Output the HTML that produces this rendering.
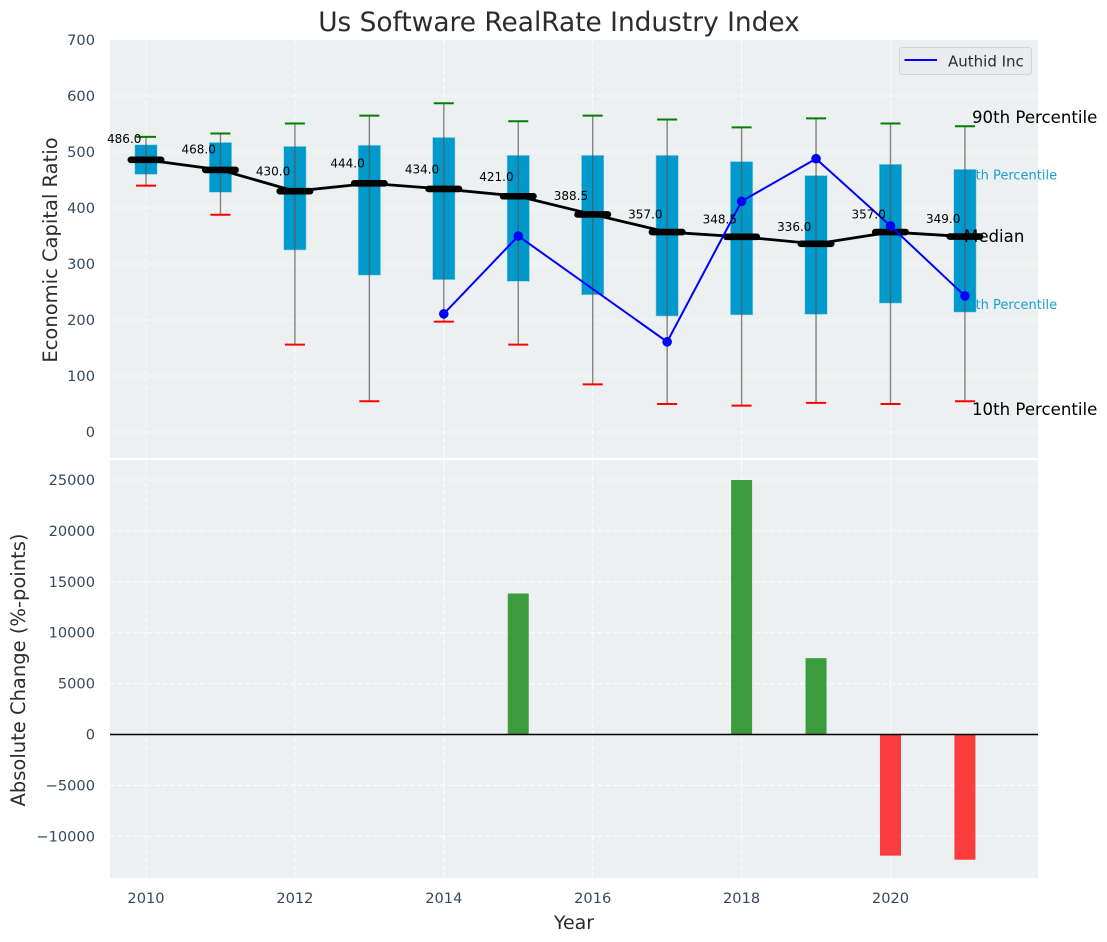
<!DOCTYPE html>
<html lang="en">
<head>
<meta charset="utf-8">
<title>Us Software RealRate Industry Index</title>
<style>
html,body{margin:0;padding:0;background:#fff;width:1107px;height:942px;overflow:hidden}
svg{display:block;font-family:"DejaVu Sans","Liberation Sans",sans-serif}
</style>
</head>
<body>
<svg id="chart" xmlns="http://www.w3.org/2000/svg" width="1107" height="942" viewBox="0 0 1107 942"></svg>
<script>
const years = [2010,2011,2012,2013,2014,2015,2016,2017,2018,2019,2020,2021];
const p90 = [527,533,551,565,587,555,565,558,544,560,551,546];
const p75 = [513,517,510,512,526,494,494,494,483,458,478,469];
const medians = [486,468,430,444,434,421,388.5,357,348.5,336,357,349];
const p25 = [460,428,325,280,272,269,245,207,209,210,230,214];
const p10 = [440,388,156,55,197,156,85,50,47,52,50,55];
const authidYears = [2014,2015,2017,2018,2019,2020,2021];
const authidValues = [211,350,161,412,488,368,243];
const changeYears = [2015,2018,2019,2020,2021];
const changeValues = [13850,25000,7500,-11900,-12300];
const xTicks = [2010,2012,2014,2016,2018,2020];
const yTicksTop = [0,100,200,300,400,500,600,700];
const yTicksBottom = [-10000,-5000,0,5000,10000,15000,20000,25000];

const NS = 'http://www.w3.org/2000/svg';
const svg = document.getElementById('chart');
const L = 110, R = 1038, T1 = 40, B1 = 458, T2 = 460, B2 = 878;
const x = v => 146 + (v - 2010) * 74.45;
const y1 = v => 432 - v * 0.56;
const y2 = v => 734.5 - v * 0.01018;
const labelY = v => 142.8 + (486 - v) * 0.587;

function mk(tag, attrs, text) {
  const el = document.createElementNS(NS, tag);
  for (const k in attrs) el.setAttribute(k, attrs[k]);
  if (text !== undefined) el.textContent = text;
  svg.appendChild(el);
  return el;
}
function fmtTick(v) { return v < 0 ? '\u2212' + Math.abs(v) : String(v); }

let el;
// panels
el = mk('rect', {x:L, y:T1, width:R-L, height:B1-T1, fill:'#ecf0f1'});


el = mk('rect', {x:L, y:T2, width:R-L, height:B2-T2, fill:'#ecf0f1'});



// grid
const gridStyle = {stroke:'#ffffff', 'stroke-width':1.1, 'stroke-dasharray':'5 2.5', opacity:0.85};
xTicks.forEach(t => {
  el = mk('line', Object.assign({x1:x(t), x2:x(t), y1:T1, y2:B1}, gridStyle));
  
  
  el = mk('line', Object.assign({x1:x(t), x2:x(t), y1:T2, y2:B2}, gridStyle));
  
  
  el = mk('text', {x:x(t), y:903, 'text-anchor':'middle', 'font-size':14.6, fill:'#34495e'}, String(t));
  
  
});
yTicksTop.forEach(t => {
  if (t < 700) {
    el = mk('line', Object.assign({x1:L, x2:R, y1:y1(t), y2:y1(t)}, gridStyle));
    
    
  }
  el = mk('text', {x:95, y:y1(t)+5, 'text-anchor':'end', 'font-size':14.6, fill:'#34495e'}, fmtTick(t));
  
  
});
yTicksBottom.forEach(t => {
  el = mk('line', Object.assign({x1:L, x2:R, y1:y2(t), y2:y2(t)}, gridStyle));
  
  
  el = mk('text', {x:95, y:y2(t)+5, 'text-anchor':'end', 'font-size':14.6, fill:'#34495e'}, fmtTick(t));
  
  
});

// percentile annotations that sit behind the boxes
const lastIndex = years.length - 1;
el = mk('text', {x:x(2021)-6, y:y1(p75[lastIndex])+10, 'font-size':13, fill:'#0099cc', opacity:0.9}, '75th Percentile');


el = mk('text', {x:x(2021)-6, y:y1(p25[lastIndex])-3, 'font-size':13, fill:'#0099cc', opacity:0.9}, '25th Percentile');



// boxes
years.forEach((yr, i) => {
  el = mk('rect', {x:x(yr)-11.2, y:y1(p75[i]), width:22.4, height:y1(p25[i])-y1(p75[i]), fill:'#0099cc', stroke:'#9fd6e8', 'stroke-width':0.6});
  
  
});
// whiskers and caps
years.forEach((yr, i) => {
  el = mk('line', {x1:x(yr), x2:x(yr), y1:y1(p90[i]), y2:y1(p10[i]), stroke:'#555555', 'stroke-width':1.4, opacity:0.7});
  
  
  el = mk('line', {x1:x(yr)-10, x2:x(yr)+10, y1:y1(p90[i]), y2:y1(p90[i]), stroke:'#008000', 'stroke-width':2});
  
  
  el = mk('line', {x1:x(yr)-10, x2:x(yr)+10, y1:y1(p10[i]), y2:y1(p10[i]), stroke:'#ff0000', 'stroke-width':2});
  
  
});

// median trend line and median bars
el = mk('polyline', {points:years.map((yr, i) => x(yr)+','+y1(medians[i])).join(' '), fill:'none', stroke:'#000000', 'stroke-width':2.8});


years.forEach((yr, i) => {
  el = mk('line', {x1:x(yr)-15.2, x2:x(yr)+15.2, y1:y1(medians[i]), y2:y1(medians[i]), stroke:'#000000', 'stroke-width':6.6, 'stroke-linecap':'round'});
  
  
});

// authid series
el = mk('polyline', {points:authidYears.map((yr, i) => x(yr)+','+y1(authidValues[i])).join(' '), fill:'none', stroke:'#0000ff', 'stroke-width':2});


authidYears.forEach((yr, i) => {
  el = mk('circle', {cx:x(yr), cy:y1(authidValues[i]), r:4.8, fill:'#0000ff'});
  
  
});

// median labels
years.forEach((yr, i) => {
  el = mk('text', {x:x(yr)-21.8, y:labelY(medians[i]), 'text-anchor':'middle', 'font-size':12, fill:'#000000'}, medians[i].toFixed(1));
  
  
});

// remaining annotations
el = mk('text', {x:972, y:123, 'font-size':16.6, fill:'#000000'}, '90th Percentile');


el = mk('text', {x:964, y:242, 'font-size':16.6, fill:'#000000'}, 'Median');


el = mk('text', {x:972, y:415, 'font-size':16.6, fill:'#000000'}, '10th Percentile');



// legend
el = mk('rect', {x:899.5, y:47.5, width:132, height:27, rx:3, fill:'#e9ebef', stroke:'#d2d4d6', 'stroke-width':1});


el = mk('line', {x1:904.5, x2:937, y1:60, y2:60, stroke:'#0000ff', 'stroke-width':2});


el = mk('text', {x:948, y:66.5, 'font-size':15, fill:'#2c2c2c'}, 'Authid Inc');



// change bars
changeYears.forEach((yr, i) => {
  const v = changeValues[i];
  const top = Math.min(y2(v), y2(0));
  const h = Math.abs(y2(v) - y2(0));
  el = mk('rect', {x:x(yr)-10.5, y:top, width:21, height:h, fill:v >= 0 ? '#008000' : '#ff0000', 'fill-opacity':0.75});
  
  
});
el = mk('line', {x1:L, x2:R, y1:y2(0), y2:y2(0), stroke:'#000000', 'stroke-width':1.4});



// titles
el = mk('text', {x:559, y:31, 'text-anchor':'middle', 'font-size':26.4, fill:'#2c2c2c'}, 'Us Software RealRate Industry Index');


el = mk('text', {x:574, y:929, 'text-anchor':'middle', 'font-size':19, fill:'#2c2c2c'}, 'Year');


el = mk('text', {x:0, y:0, transform:'translate(57,250) rotate(-90)', 'text-anchor':'middle', 'font-size':19.5, fill:'#2c2c2c'}, 'Economic Capital Ratio');


el = mk('text', {x:0, y:0, transform:'translate(25,670) rotate(-90)', 'text-anchor':'middle', 'font-size':19.5, fill:'#2c2c2c'}, 'Absolute Change (%-points)');


</script>
</body>
</html>
